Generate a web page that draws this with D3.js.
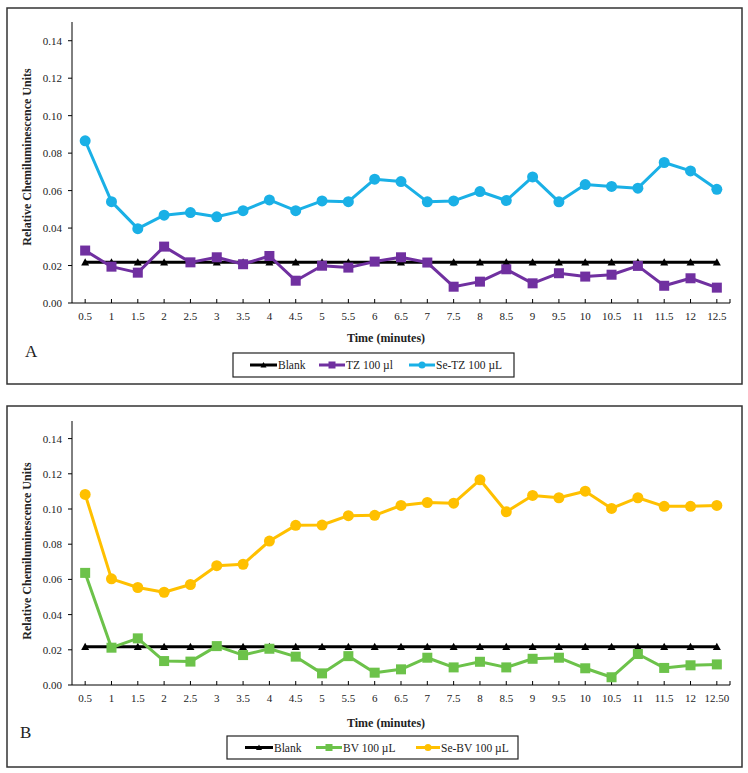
<!DOCTYPE html>
<html><head><meta charset="utf-8">
<script src="https://cdn.jsdelivr.net/npm/d3@7"></script>
<style>body{margin:0;background:#fff}svg{display:block;font-family:"Liberation Serif","Times New Roman",serif}</style>
</head><body><svg id="c" width="748" height="773"></svg>
<script>
const timesA = ["0.5","1","1.5","2","2.5","3","3.5","4","4.5","5","5.5","6","6.5","7","7.5","8","8.5","9","9.5","10","10.5","11","11.5","12","12.5"];
const timesB = ["0.5","1","1.5","2","2.5","3","3.5","4","4.5","5","5.5","6","6.5","7","7.5","8","8.5","9","9.5","10","10.5","11","11.5","12","12.50"];
const yTicks = [0, 0.02, 0.04, 0.06, 0.08, 0.10, 0.12, 0.14];

const blankA = [0.0217,0.0217,0.0217,0.0217,0.0217,0.0217,0.0217,0.0217,0.0217,0.0217,0.0217,0.0217,0.0217,0.0217,0.0217,0.0217,0.0217,0.0217,0.0217,0.0217,0.0217,0.0217,0.0217,0.0217,0.0217];
const tzA = [0.0280,0.0194,0.0162,0.0301,0.0217,0.0244,0.0207,0.0251,0.0119,0.0199,0.0189,0.0221,0.0244,0.0216,0.0087,0.0114,0.0180,0.0105,0.0159,0.0141,0.0151,0.0198,0.0092,0.0132,0.0082];
const seTzA = [0.0866,0.0541,0.0397,0.0469,0.0483,0.0460,0.0493,0.0550,0.0493,0.0545,0.0541,0.0661,0.0648,0.0540,0.0545,0.0595,0.0547,0.0673,0.0540,0.0632,0.0622,0.0613,0.0750,0.0705,0.0607];

const blankB = [0.0217,0.0217,0.0217,0.0217,0.0217,0.0217,0.0217,0.0217,0.0217,0.0217,0.0217,0.0217,0.0217,0.0217,0.0217,0.0217,0.0217,0.0217,0.0217,0.0217,0.0217,0.0217,0.0217,0.0217,0.0217];
const bvB = [0.0637,0.0212,0.0265,0.0136,0.0133,0.0221,0.0170,0.0206,0.0161,0.0066,0.0164,0.0070,0.0089,0.0155,0.0100,0.0132,0.0100,0.0149,0.0155,0.0095,0.0044,0.0176,0.0097,0.0112,0.0117];
const seBvB = [0.1083,0.0603,0.0554,0.0527,0.0571,0.0678,0.0686,0.0818,0.0907,0.0909,0.0962,0.0964,0.1020,0.1037,0.1033,0.1166,0.0984,0.1077,0.1064,0.1101,0.1003,0.1064,0.1015,0.1015,0.1020];

const namesA = ["Blank","TZ 100 µl","Se-TZ 100 µL"];
const namesB = ["Blank","BV 100 µL","Se-BV 100 µL"];
const colorsA = ["#000000","#7030A0","#1AB0E6"];
const colorsB = ["#000000","#6CC24A","#FFC000"];
const shapes = ["triangle","square","circle"];

const svg = d3.select("#c");

function panel(cfg){
  const g = svg.append("g");
  g.append("rect").attr("x",cfg.box[0]).attr("y",cfg.box[1]).attr("width",cfg.box[2]).attr("height",cfg.box[3])
    .attr("fill","none").attr("stroke","#333").attr("stroke-width",1.5);
  const x = d3.scaleBand().domain(cfg.times).range([72,730]);
  const y = d3.scaleLinear().domain([0,0.15]).range([cfg.y0,cfg.yTop]);
  const cx = d => x(d) + x.bandwidth()/2;
  // axes
  g.append("line").attr("x1",72).attr("x2",72).attr("y1",cfg.yTop).attr("y2",cfg.y0).attr("stroke","#000").attr("stroke-width",1);
  g.append("line").attr("x1",72).attr("x2",730).attr("y1",cfg.y0).attr("y2",cfg.y0).attr("stroke","#000").attr("stroke-width",1);
  yTicks.forEach(t=>{
    g.append("line").attr("x1",68).attr("x2",72).attr("y1",y(t)).attr("y2",y(t)).attr("stroke","#000");
    g.append("text").attr("x",62).attr("y",y(t)+4).attr("text-anchor","end").attr("font-size",11).attr("fill","#222").text(d3.format(".2f")(t));
  });
  cfg.times.forEach(t=>{
    g.append("line").attr("x1",cx(t)).attr("x2",cx(t)).attr("y1",cfg.y0-4).attr("y2",cfg.y0).attr("stroke","#000");
    g.append("text").attr("x",cx(t)).attr("y",cfg.y0+17).attr("text-anchor","middle").attr("font-size",11).attr("fill","#222").text(t);
  });
  g.append("line").attr("x1",730).attr("x2",730).attr("y1",cfg.y0-4).attr("y2",cfg.y0).attr("stroke","#000");
  g.append("text").attr("transform",`translate(31,${cfg.ytc}) rotate(-90)`).attr("text-anchor","middle")
    .attr("font-size",12).attr("font-weight","bold").attr("fill","#222").text("Relative Chemiluminescence Units");
  g.append("text").attr("x",386).attr("y",cfg.xtb).attr("text-anchor","middle")
    .attr("font-size",12).attr("font-weight","bold").attr("fill","#222").text("Time (minutes)");
  g.append("text").attr("x",cfg.letter[0]).attr("y",cfg.letter[1]).attr("font-size",17).attr("fill","#222").text(cfg.letterText);

  const line = d3.line().x((d,i)=>cx(cfg.times[i])).y(d=>y(d));
  function marker(sel, shape, px, py, s, color){
    if(shape==="circle") sel.append("circle").attr("cx",px).attr("cy",py).attr("r",s).attr("fill",color);
    else if(shape==="square") sel.append("rect").attr("x",px-s).attr("y",py-s).attr("width",2*s).attr("height",2*s).attr("fill",color);
    else sel.append("path").attr("d",`M${px},${py-s}L${px+s},${py+s*0.8}L${px-s},${py+s*0.8}Z`).attr("fill",color);
  }
  const sizes = [4,5,5.5];
  const widths = [3,3,3];
  cfg.series.forEach((s,k)=>{
    g.append("path").datum(s).attr("d",line).attr("fill","none").attr("stroke",cfg.colors[k]).attr("stroke-width",widths[k]).attr("stroke-linejoin","round");
  });
  cfg.series.forEach((s,k)=>{
    s.forEach((v,i)=>marker(g, shapes[k], cx(cfg.times[i]), y(v), sizes[k], cfg.colors[k]));
  });
  // legend
  const L = cfg.legend;
  g.append("rect").attr("x",L.box[0]).attr("y",L.box[1]).attr("width",L.box[2]).attr("height",L.box[3])
    .attr("fill","#fff").attr("stroke","#222").attr("stroke-width",1.2);
  const ly = L.box[1] + L.box[3]/2;
  cfg.names.forEach((n,k)=>{
    const [a,b] = L.lines[k];
    g.append("line").attr("x1",a).attr("x2",b).attr("y1",ly).attr("y2",ly).attr("stroke",cfg.colors[k]).attr("stroke-width",3);
    marker(g, shapes[k], (a+b)/2, ly, [3,3.5,3.5][k], cfg.colors[k]);
    g.append("text").attr("x",b+1).attr("y",ly+4).attr("font-size",11.5).attr("fill","#222").text(n);
  });
}

panel({box:[7,8,735,376], times:timesA, y0:303, yTop:22, ytc:157, xtb:342, letter:[25,357], letterText:"A",
  series:[blankA,tzA,seTzA], colors:colorsA, names:namesA,
  legend:{box:[233,353,281,24], lines:[[250,277],[319,345],[409,435]]}});
panel({box:[7,406,735,361], times:timesB, y0:685, yTop:421, ytc:551, xtb:727, letter:[20,738], letterText:"B",
  series:[blankB,bvB,seBvB], colors:colorsB, names:namesB,
  legend:{box:[227,736,291,23], lines:[[245,273],[316,342],[416,440]]}});
</script></body></html>
